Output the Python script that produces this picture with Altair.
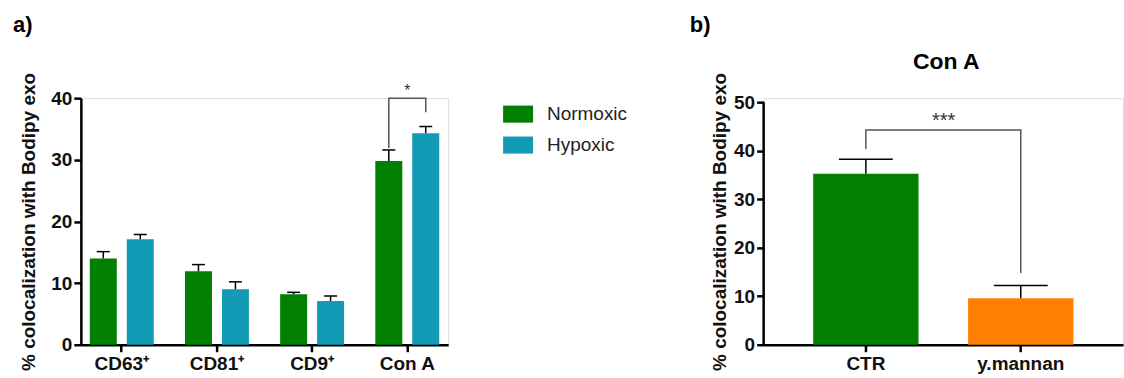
import altair as alt
import pandas as pd

# ---------------- data ----------------
categories = ["CD63⁺", "CD81⁺", "CD9⁺", "Con A"]
conditions = ["Normoxic", "Hypoxic"]
normoxic_mean = [14.0, 11.9, 8.2, 29.8]
normoxic_err = [1.1, 1.1, 0.3, 1.8]
hypoxic_mean = [17.1, 9.0, 7.1, 34.3]
hypoxic_err = [0.8, 1.2, 0.8, 1.1]

bracket_a_cat = ["Con A", "Con A", "Con A", "Con A"]
bracket_a_cond = ["Normoxic", "Normoxic", "Hypoxic", "Hypoxic"]
bracket_a_y = [31.9, 40.0, 40.0, 37.7]
sig_a = "*"

treatments = ["CTR", "y.mannan"]
conA_mean = [35.3, 9.6]
conA_err = [3.0, 2.6]
bracket_b_x = ["CTR", "CTR", "y.mannan", "y.mannan"]
bracket_b_y = [40.4, 44.3, 44.3, 14.8]
sig_b = "***"

panel_b_title = "Con A"
y_title = "% colocalization with Bodipy exo"
FONT = "Liberation Sans"

# ---------------- tables ----------------
rows = []
for i, c in enumerate(categories):
    rows.append({"cat": c, "cond": "Normoxic", "mean": normoxic_mean[i],
                 "top": normoxic_mean[i] + normoxic_err[i]})
    rows.append({"cat": c, "cond": "Hypoxic", "mean": hypoxic_mean[i],
                 "top": hypoxic_mean[i] + hypoxic_err[i]})
dfa = pd.DataFrame(rows)
dfa_br = pd.DataFrame({"cat": bracket_a_cat, "cond": bracket_a_cond,
                       "y": bracket_a_y, "step": list(range(len(bracket_a_y)))})
dfa_sig = pd.DataFrame({"cat": ["Con A"], "y": [max(bracket_a_y)], "label": [sig_a]})

dfb = pd.DataFrame({"trt": treatments, "mean": conA_mean,
                    "top": [m + e for m, e in zip(conA_mean, conA_err)]})
dfb_br = pd.DataFrame({"trt": bracket_b_x, "y": bracket_b_y,
                       "step": list(range(len(bracket_b_y)))})
dfb_sig = pd.DataFrame({"trt": ["CTR"], "y": [max(bracket_b_y)], "label": [sig_b]})

axis_common = dict(
    domainColor="black", domainWidth=2.5, tickColor="black", tickWidth=2.5,
    tickSize=7, labelFont=FONT, labelFontSize=19, labelFontWeight="bold",
    labelColor="#111", grid=False,
)

# ---------------- panel a ----------------
xa = alt.X("cat:N", sort=categories,
           scale=alt.Scale(paddingInner=0.328, paddingOuter=0.094),
           axis=alt.Axis(title=None, labelAngle=0, labelPadding=3, **axis_common))
xoff = alt.XOffset("cond:N", sort=conditions,
                   scale=alt.Scale(domain=conditions, paddingInner=0.27, paddingOuter=0))
ya = alt.Y("mean:Q", scale=alt.Scale(domain=[0, 40], nice=False),
           axis=alt.Axis(values=[0, 10, 20, 30, 40], title=y_title, titleFont=FONT,
                         titleFontSize=19, titleFontWeight="bold", titleColor="#111",
                         titlePadding=12, labelPadding=2, **axis_common))

bars_a = alt.Chart(dfa).mark_bar().encode(
    x=xa, xOffset=xoff, y=ya,
    color=alt.Color("cond:N", sort=conditions,
                    scale=alt.Scale(domain=conditions, range=["#007F00", "#139AB5"]),
                    legend=alt.Legend(title=None, orient="none", legendX=423, legendY=1,
                                      symbolType="M-1,-0.57H1V0.57H-1Z", symbolSize=900,
                                      symbolStrokeWidth=0, symbolOpacity=1,
                                      labelFont=FONT, labelFontSize=19, labelColor="#222",
                                      labelOffset=14, rowPadding=6, padding=0)),
)
stem_a = alt.Chart(dfa).mark_rule(color="black", strokeWidth=1.5).encode(
    x="cat:N", xOffset="cond:N", y="mean:Q", y2="top:Q")
cap_a = alt.Chart(dfa).mark_tick(color="black", thickness=1.5, size=13, opacity=1).encode(
    x="cat:N", xOffset="cond:N", y="top:Q")
br_a = alt.Chart(dfa_br).mark_line(color="#555", strokeWidth=1.5).encode(
    x="cat:N", xOffset="cond:N", y="y:Q", order="step:Q")
sig_a_mark = alt.Chart(dfa_sig).mark_text(
    font=FONT, fontSize=16, color="#333", baseline="bottom", dy=1).encode(
    x="cat:N", y="y:Q", text="label:N")
lab_a = alt.Chart(pd.DataFrame({"t": ["a)"]})).mark_text(
    font=FONT, fontSize=22, fontWeight="bold", color="black", align="left",
    baseline="top").encode(x=alt.value(-68), y=alt.value(-83), text="t:N")

panel_a = alt.layer(bars_a, stem_a, cap_a, br_a, sig_a_mark, lab_a).properties(
    width=368, height=247)

# ---------------- panel b ----------------
b_top = 50 * 247 / 242.7
xb = alt.X("trt:N", sort=treatments,
           scale=alt.Scale(paddingInner=0.32, paddingOuter=0.32),
           axis=alt.Axis(title=None, labelAngle=0, labelPadding=3, **axis_common))
yb = alt.Y("mean:Q", scale=alt.Scale(domain=[0, b_top], nice=False),
           axis=alt.Axis(values=[0, 10, 20, 30, 40, 50], title=y_title, titleFont=FONT,
                         titleFontSize=19, titleFontWeight="bold", titleColor="#111",
                         titlePadding=4, labelPadding=2, domain=False, **axis_common))

bars_b = alt.Chart(dfb).mark_bar().encode(
    x=xb, y=yb,
    color=alt.Color("trt:N", sort=treatments,
                    scale=alt.Scale(domain=treatments, range=["#007F00", "#FF8000"]),
                    legend=None))
stem_b = alt.Chart(dfb).mark_rule(color="black", strokeWidth=1.5).encode(
    x="trt:N", y="mean:Q", y2="top:Q")
cap_b = alt.Chart(dfb).mark_tick(color="black", thickness=1.5, size=54, opacity=1).encode(
    x="trt:N", y="top:Q")
br_b = alt.Chart(dfb_br).mark_line(color="#555", strokeWidth=1.5).encode(
    x="trt:N", y="y:Q", order="step:Q")
sig_b_mark = alt.Chart(dfb_sig).mark_text(
    font=FONT, fontSize=20, color="#333", baseline="bottom", dx=78, dy=1).encode(
    x="trt:N", y="y:Q", text="label:N")
yaxis_line_b = alt.Chart(pd.DataFrame({"lo": [0], "hi": [50]})).mark_rule(
    color="black", strokeWidth=2.5).encode(x=alt.value(0), y="lo:Q", y2="hi:Q")
lab_b = alt.Chart(pd.DataFrame({"t": ["b)"]})).mark_text(
    font=FONT, fontSize=22, fontWeight="bold", color="black", align="left",
    baseline="top").encode(x=alt.value(-74), y=alt.value(-83), text="t:N")
title_b = alt.Chart(pd.DataFrame({"t": [panel_b_title]})).mark_text(
    font=FONT, fontSize=23, fontWeight="bold", color="black", align="center",
    baseline="alphabetic").encode(x=alt.value(183), y=alt.value(-29), text="t:N")

panel_b = alt.layer(bars_b, stem_b, cap_b, br_b, sig_b_mark, yaxis_line_b, lab_b,
                    title_b).properties(width=360, height=247)

chart = alt.HConcatChart(hconcat=[panel_a, panel_b], spacing=316, bounds="flush").resolve_scale(
    color="independent").properties(
    padding={"left": 12, "top": 13, "right": 0, "bottom": 5}
).configure_view(stroke=None).configure(background="white")

chart.save("out.html", embed_options={"renderer": "svg", "actions": False})
